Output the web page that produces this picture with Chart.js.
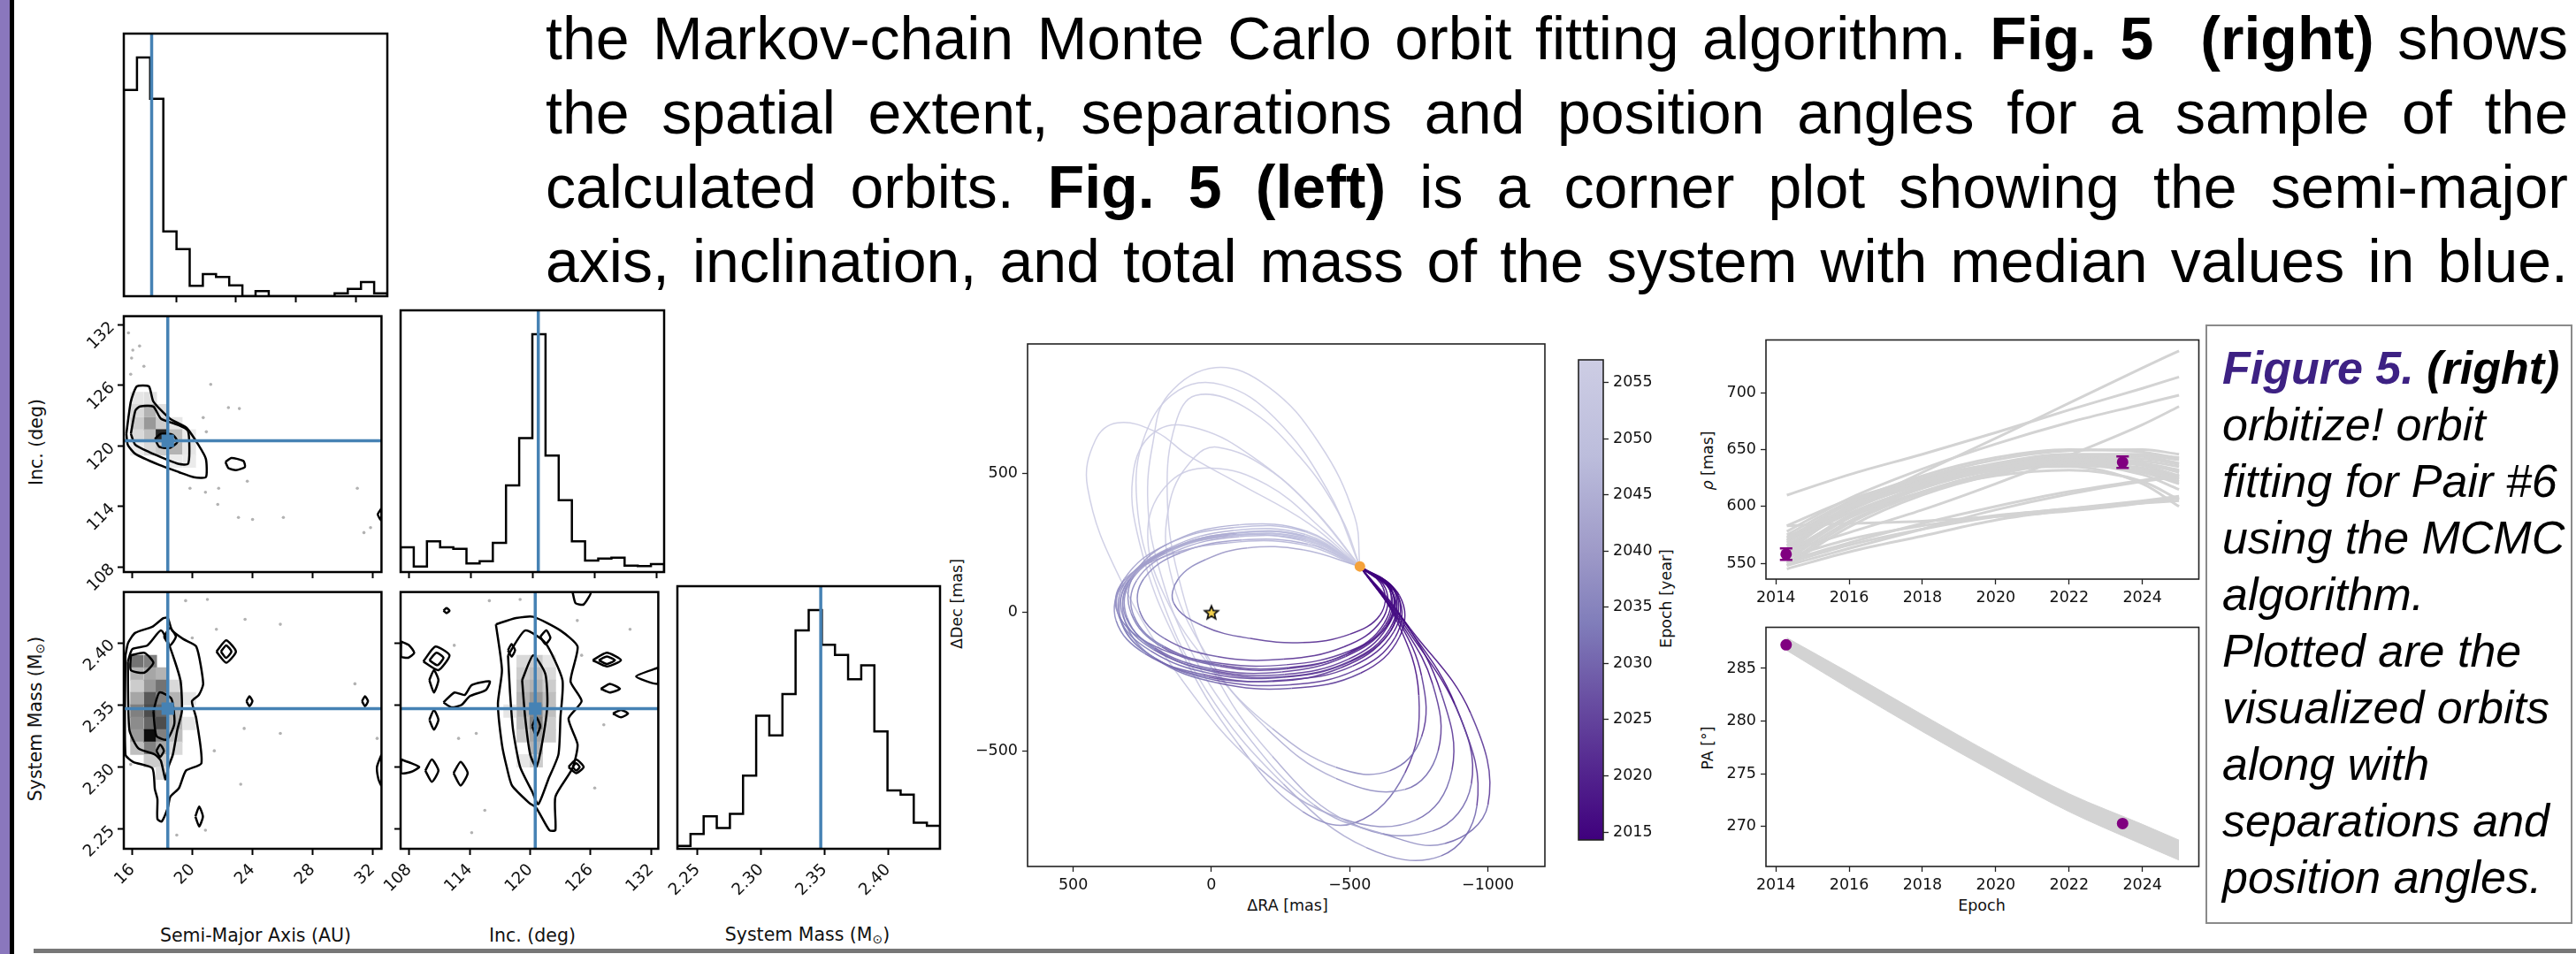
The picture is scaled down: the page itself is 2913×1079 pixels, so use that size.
<!DOCTYPE html>
<html>
<head>
<meta charset="utf-8">
<title>Fig. 5 orbit fit</title>
<script src="https://cdn.jsdelivr.net/npm/chart.js@4.4.1/dist/chart.umd.min.js"></script>
<style>
  html, body { margin: 0; padding: 0; background: #fff; }
  body { position: relative; width: 2913px; height: 1079px; overflow: hidden; font-family: "DejaVu Sans", sans-serif; color: #111; }
  canvas { position: absolute; }
  .strip { position: absolute; top: 0; height: 1079px; }
  #rule { position: absolute; left: 38px; top: 1073px; width: 2875px; height: 5px; background: #777; }
  #para { position: absolute; left: 617px; top: 1px; width: 2287px; font-family: "Liberation Sans", Arial, sans-serif; font-size: 68px; line-height: 84px; color: #000; }
  #para div { text-align: justify; text-align-last: justify; }
  #caption { position: absolute; left: 2494px; top: 367px; width: 415px; height: 678px; box-sizing: border-box; border: 2px solid #8a8a8a; padding: 15px 0 0 17px; font-family: "Liberation Sans", Arial, sans-serif; font-style: italic; font-size: 52px; line-height: 64px; color: #000; white-space: nowrap; }
  .lbl { position: absolute; white-space: nowrap; line-height: 1; transform: translate(-50%, -50%); color: #111; }
  .rot { transform: translate(-50%, -50%) rotate(-90deg); }
  .sun { font-size: 0.68em; vertical-align: -0.22em; }
</style>
</head>
<body>
<div class="strip" style="left:0;width:11px;background:#8a77bd"></div>
<div class="strip" style="left:11px;width:5px;background:#000"></div>
<div id="rule"></div>

<div id="para">
  <div>the Markov-chain Monte Carlo orbit fitting algorithm. <b>Fig. 5&nbsp; (right)</b> shows</div>
  <div>the spatial extent, separations and position angles for a sample of the</div>
  <div>calculated orbits. <b>Fig. 5 (left)</b> is a corner plot showing the semi-major</div>
  <div>axis, inclination, and total mass of the system with median values in blue.</div>
</div>

<div id="caption"><b style="color:#3d2183">Figure 5.</b> <b>(right)</b><br>orbitize! orbit<br>fitting for Pair #6<br>using the MCMC<br>algorithm.<br>Plotted are the<br>visualized orbits<br>along with<br>separations and<br>position angles.</div>

<div class="lbl rot" style="left:41px;top:500px;font-size:20.5px">Inc. (deg)</div>
<div class="lbl rot" style="left:41px;top:813px;font-size:20.5px">System Mass (M<span class="sun">⊙</span>)</div>
<div class="lbl" style="left:289px;top:1058px;font-size:20.5px">Semi-Major Axis (AU)</div>
<div class="lbl" style="left:602px;top:1058px;font-size:20.5px">Inc. (deg)</div>
<div class="lbl" style="left:913px;top:1058px;font-size:20.5px">System Mass (M<span class="sun">⊙</span>)</div>
<div class="lbl rot" style="left:1083px;top:683px;font-size:17.5px">ΔDec [mas]</div>
<div class="lbl" style="left:1456px;top:1025px;font-size:17.5px">ΔRA [mas]</div>
<div class="lbl rot" style="left:1885px;top:677px;font-size:17.5px">Epoch [year]</div>
<div class="lbl rot" style="left:1932px;top:521px;font-size:17.5px"><i>ρ</i> [mas]</div>
<div class="lbl rot" style="left:1932px;top:846px;font-size:17.5px">PA [°]</div>
<div class="lbl" style="left:2241px;top:1025px;font-size:17.5px">Epoch</div>

<script>
// ---------- corner plot ----------
const aRange = [15.43, 32.6];
const aHistRange = [16.5, 34.1];
const incRange = [107.15, 132.7];
const incYRange = [107.49, 132.86];
const massRange = [2.234, 2.441];
const aTicks = [16, 20, 24, 28, 32];
const aHistTicks = [20, 24, 28, 32];
const incTicks = [108, 114, 120, 126, 132];
const massTicks = [2.25, 2.30, 2.35, 2.40];
const aTruth = 18.36, incTruth = 120.5, massTruth = 2.347;

const aHistCounts = [70, 81, 67, 22, 16, 3.5, 7.5, 6.5, 3.7, 0, 1.7, 0, 0, 0, 0, 0, 1, 2.5, 4.8, 1];
const incHistCounts = [84, 19, 104, 84, 79, 29, 37, 99, 294, 454, 807, 395, 244, 104, 39, 46, 49, 22, 20, 27];
const massHistCounts = [10, 50, 110, 70, 118, 247, 450, 383, 523, 738, 807, 690, 655, 573, 620, 397, 197, 183, 88, 78];

const aIncCells = [
  [16.3,124.7,0.1],[17.2,124.7,0.12],
  [16.3,123.5,0.15],[17.2,123.5,0.3],[18.0,123.5,0.12],
  [16.3,122.2,0.2],[17.2,122.2,0.4],[18.0,122.2,0.2],[18.9,122.2,0.1],
  [16.3,121.0,0.15],[17.2,121.0,0.25],[18.0,121.0,0.85],[18.9,121.0,0.25],[19.8,121.0,0.08],
  [16.3,119.7,0.08],[17.2,119.7,0.15],[18.0,119.7,0.2],[18.9,119.7,0.3],[19.8,119.7,0.1],
  [18.9,118.5,0.08],[19.8,118.5,0.08]
];
const aIncContours = [
  [[15.6,121.2],[15.9,124.4],[16.3,125.9],[17.1,125.9],[17.4,124.4],[18.5,122.7],[19.6,121.8],[20.4,120.1],[20.9,118.7],[20.9,116.9],[20.1,116.9],[19.1,117.4],[17.8,118.1],[16.2,119.2],[15.7,120.1]],
  [[15.9,121.2],[16.2,123.5],[16.5,123.9],[17.4,123.9],[17.9,122.7],[19.0,122.1],[19.7,121.5],[19.8,119.5],[19.7,118.2],[19.1,118.2],[18.2,118.7],[17.1,119.4],[16.2,120.1]],
  [[17.5,120.7],[17.9,121.2],[18.7,121.1],[19.0,120.4],[18.5,119.8],[17.8,119.9]],
  [[22.2,118.4],[22.6,118.8],[23.4,118.5],[23.5,117.9],[22.9,117.6],[22.4,117.8]],
  [[32.6,113.8],[32.35,113.2],[32.6,112.6]]
];
const aIncDots = [[15.74,131.2],[16.03,129.5],[16.48,129.9],[15.95,128.7],[16.77,127.9],[15.89,127.1],[21.22,126.1],[22.4,123.8],[23.13,123.7],[20.72,122.8],[20.93,121.4],[23.66,116.5],[19.84,115.8],[20.87,115.4],[21.75,115.8],[21.69,114.2],[23.07,112.9],[24.01,112.7],[26.06,112.9],[30.99,115.8],[31.87,111.9],[31.43,111.4]];

const aMassCells = [
  [16.3,2.385,0.55],[16.3,2.375,0.3],[16.3,2.365,0.2],[16.3,2.355,0.35],[16.3,2.345,0.5],[16.3,2.335,0.45],[16.3,2.325,0.4],[16.3,2.315,0.25],
  [17.2,2.385,0.5],[17.2,2.375,0.35],[17.2,2.365,0.4],[17.2,2.355,0.65],[17.2,2.345,0.7],[17.2,2.335,0.6],[17.2,2.325,0.95],[17.2,2.315,0.5],[17.2,2.305,0.2],
  [18.0,2.375,0.3],[18.0,2.365,0.55],[18.0,2.355,0.5],[18.0,2.345,0.6],[18.0,2.335,0.7],[18.0,2.325,0.5],[18.0,2.315,0.35],[18.0,2.305,0.2],[18.0,2.295,0.15],
  [18.9,2.365,0.15],[18.9,2.355,0.3],[18.9,2.345,0.3],[18.9,2.335,0.3],[18.9,2.325,0.25],[18.9,2.315,0.15],
  [19.8,2.355,0.1],[19.8,2.335,0.1]
];
const aMassContours = [
  [[15.54,2.39],[15.72,2.40],[16.18,2.408],[17.33,2.413],[18.07,2.42],[18.36,2.42],[18.65,2.41],[19.4,2.403],[20.26,2.397],[20.72,2.367],[20.43,2.358],[19.97,2.353],[20.26,2.339],[20.6,2.303],[19.57,2.297],[19.11,2.283],[18.53,2.276],[18.36,2.267],[17.96,2.256],[17.67,2.258],[17.67,2.274],[17.5,2.282],[17.33,2.299],[16.06,2.304],[15.54,2.31]],
  [[15.7,2.385],[16.0,2.395],[17.0,2.398],[17.9,2.41],[18.4,2.40],[19.2,2.37],[19.3,2.345],[19.0,2.33],[18.7,2.31],[18.4,2.30],[18.2,2.29],[17.9,2.305],[17.5,2.31],[16.4,2.315],[15.8,2.33]],
  [[17.4,2.345],[17.8,2.36],[18.6,2.355],[18.8,2.335],[18.3,2.322],[17.6,2.325]],
  [[15.9,2.39],[16.8,2.392],[17.4,2.384],[16.8,2.376],[15.9,2.378]],
  [[18.1,2.405],[18.5,2.412],[18.9,2.405],[18.5,2.398]],
  [[21.6,2.393],[22.25,2.402],[22.9,2.393],[22.25,2.384]],
  [[21.9,2.393],[22.25,2.398],[22.6,2.393],[22.25,2.388]],
  [[23.6,2.353],[23.8,2.357],[24.0,2.353],[23.8,2.349]],
  [[31.3,2.353],[31.5,2.357],[31.7,2.353],[31.5,2.349]],
  [[20.2,2.26],[20.45,2.268],[20.7,2.26],[20.45,2.252]],
  [[17.6,2.313],[17.85,2.318],[18.1,2.313],[17.85,2.308]],
  [[32.6,2.31],[32.3,2.30],[32.4,2.29],[32.6,2.285]]
];
const aMassDots = [[15.89,2.302],[19.99,2.404],[23.45,2.331],[25.86,2.327],[23.22,2.286],[30.83,2.367],[32.31,2.323],[20.87,2.249],[18.96,2.245],[21.46,2.313],[21.6,2.411],[23.51,2.419],[25.86,2.415],[21.0,2.435],[19.55,2.434]];

const incMassCells = [
  [119.3,2.385,0.15],[120.6,2.385,0.2],[121.9,2.385,0.1],
  [119.3,2.375,0.2],[120.6,2.375,0.25],[121.9,2.375,0.15],
  [119.3,2.365,0.25],[120.6,2.365,0.3],[121.9,2.365,0.2],
  [119.3,2.355,0.3],[120.6,2.355,0.4],[121.9,2.355,0.25],
  [119.3,2.345,0.3],[120.6,2.345,0.45],[121.9,2.345,0.25],[118.0,2.345,0.1],
  [119.3,2.335,0.25],[120.6,2.335,0.5],[121.9,2.335,0.2],
  [119.3,2.325,0.2],[120.6,2.325,0.35],[121.9,2.325,0.2],
  [120.6,2.315,0.3],[120.6,2.305,0.2],[119.3,2.305,0.1]
];
const incMassContours = [
  [[116.6,2.415],[118.6,2.42],[120.3,2.421],[123.0,2.41],[124.7,2.397],[124.0,2.369],[125.1,2.353],[123.8,2.339],[124.7,2.318],[124.2,2.299],[122.5,2.276],[122.5,2.249],[121.9,2.249],[120.6,2.267],[119.9,2.271],[118.2,2.285],[117.7,2.299],[117.2,2.318],[116.8,2.351],[117.2,2.378]],
  [[117.8,2.39],[119.5,2.41],[121.5,2.40],[123.2,2.37],[123.0,2.34],[122.8,2.31],[121.8,2.29],[120.8,2.27],[120.2,2.28],[119.0,2.30],[118.3,2.33],[118.0,2.36]],
  [[119.2,2.37],[120.3,2.39],[121.5,2.375],[121.7,2.35],[121.2,2.32],[120.6,2.30],[120.0,2.31],[119.5,2.34]],
  [[120.2,2.333],[120.6,2.340],[121.0,2.333],[120.6,2.325]],
  [[121.0,2.405],[121.6,2.41],[122.0,2.404],[121.5,2.399]],
  [[117.8,2.394],[118.15,2.399],[118.5,2.394],[118.15,2.389]],
  [[107.2,2.401],[108.0,2.398],[108.5,2.392],[107.9,2.388],[107.2,2.389]],
  [[109.4,2.385],[110.6,2.397],[112.0,2.39],[110.9,2.378]],
  [[110.0,2.386],[110.7,2.392],[111.4,2.388],[110.8,2.382]],
  [[110.0,2.37],[110.45,2.378],[110.9,2.37],[110.45,2.36]],
  [[111.4,2.352],[112.5,2.36],[113.5,2.358],[114.2,2.366],[116.0,2.369],[115.6,2.362],[114.0,2.357],[113.2,2.35],[112.2,2.348]],
  [[110.0,2.338],[110.45,2.346],[110.9,2.338],[110.45,2.33]],
  [[107.2,2.306],[108.2,2.303],[109.0,2.30],[108.2,2.296],[107.2,2.295]],
  [[109.6,2.297],[110.25,2.306],[110.9,2.297],[110.25,2.288]],
  [[112.4,2.295],[113.1,2.304],[113.8,2.295],[113.1,2.285]],
  [[126.2,2.386],[127.6,2.392],[129.0,2.386],[127.6,2.381]],
  [[126.8,2.386],[127.6,2.389],[128.4,2.386],[127.6,2.383]],
  [[127.0,2.363],[127.9,2.367],[128.9,2.363],[127.9,2.36]],
  [[128.2,2.343],[129.0,2.346],[129.7,2.343],[129.0,2.34]],
  [[132.7,2.38],[130.5,2.373],[132.7,2.367]],
  [[123.8,2.30],[124.55,2.306],[125.3,2.30],[124.55,2.295]],
  [[124.2,2.30],[124.55,2.303],[124.9,2.30],[124.55,2.297]],
  [[124.2,2.441],[124.5,2.432],[125.3,2.431],[126.0,2.441]],
  [[111.4,2.426],[111.7,2.428],[112.0,2.426],[111.7,2.424]]
];
const incMassDots = [[112.47,2.398],[114.65,2.327],[115.5,2.265],[114.2,2.247],[125.1,2.39],[126.4,2.283],[112.9,2.323],[127.3,2.334],[115.95,2.434],[119.0,2.435],[124.67,2.418],[129.9,2.411]];

// ---------- orbit plot ----------
const raRange = [-1206, 665];
const decRange = [-918, 968];
const raTicks = [500, 0, -500, -1000];
const decTicks = [-500, 0, 500];
const nowPos = [-537, 165];
const starPos = [0, 0];
const cbarRange = [2014.3, 2057];
const cbarTicks = [2015, 2020, 2025, 2030, 2035, 2040, 2045, 2050, 2055];
const cmapStops = [[0, [63, 0, 125]], [0.15, [84, 39, 143]], [0.3, [106, 81, 163]], [0.45, [128, 125, 186]], [0.6, [158, 154, 200]], [0.8, [188, 189, 220]], [1, [205, 205, 228]]];
// each point: [dRA, dDec, epoch]
const orbitTracks = [
  [[-537,165,2014.3],[-653,79,2017],[-631,-52,2020],[-485,-160,2023.5],[-255,-216,2027],[-2,-205,2030.5],[205,-129,2034],[313,-9,2037.5],[291,122,2041],[145,230,2044.5],[-85,286,2048],[-338,275,2051.5],[-537,165,2055]],
  [[-537,165,2014.3],[-620,90,2016.5],[-610,-10,2019],[-500,-80,2022],[-330,-110,2025],[-140,-95,2028],[30,-50,2031],[135,30,2034],[120,120,2037],[20,190,2040],[-130,232,2043],[-330,225,2046],[-537,165,2049]],
  [[-537,165,2014.3],[-665,75,2017.2],[-650,-65,2020.4],[-500,-180,2024],[-260,-235,2027.6],[0,-222,2031.2],[220,-140,2034.8],[335,-15,2038.4],[315,120,2042],[160,245,2045.6],[-80,305,2049.2],[-340,290,2052.8],[-537,165,2056.5]],
  [[-537,165,2014.3],[-660,60,2017],[-640,-80,2020],[-470,-200,2023.5],[-220,-250,2027],[30,-225,2030.5],[240,-150,2034],[345,-30,2037.5],[320,100,2041],[170,215,2044.5],[-60,275,2048],[-320,260,2051.5],[-537,165,2055]],
  [[-537,165,2014.3],[-640,95,2016.8],[-625,-40,2019.8],[-490,-150,2023.2],[-270,-205,2026.7],[-30,-195,2030.2],[180,-125,2033.7],[290,-5,2037.2],[280,135,2040.7],[140,255,2044.2],[-100,315,2047.7],[-350,290,2051.2],[-537,165,2054.7]],
  [[-537,165,2014.3],[-655,70,2016.9],[-640,-45,2019.8],[-500,-140,2023.2],[-270,-190,2026.6],[0,-180,2030],[230,-110,2033.4],[340,0,2036.8],[320,110,2040.2],[170,200,2043.6],[-60,250,2047],[-320,245,2050.4],[-537,165,2053.8]],
  [[-537,165,2014.3],[-650,85,2017],[-635,-55,2020],[-495,-170,2023.5],[-265,-225,2027],[-10,-212,2030.5],[210,-135,2034],[320,-15,2037.5],[300,115,2041],[150,225,2044.5],[-90,280,2048],[-345,265,2051.5],[-537,165,2055]],
  [[-537,165,2014.3],[-680,60,2017.3],[-680,-90,2020.6],[-540,-220,2024.3],[-290,-275,2028],[-20,-255,2031.7],[200,-170,2035.4],[310,-40,2039.1],[300,100,2042.8],[160,215,2046.5],[-70,275,2050.2],[-330,265,2053.9],[-537,165,2057.6]],
  [[-537,165,2014.3],[-630,85,2016.6],[-615,-30,2019.3],[-480,-125,2022.4],[-260,-170,2025.5],[-20,-160,2028.6],[170,-95,2031.7],[260,5,2034.8],[245,120,2037.9],[110,215,2041],[-110,260,2044.1],[-350,245,2047.2],[-537,165,2050.3]],
  [[-537,165,2014.3],[-670,70,2017.1],[-660,-70,2020.3],[-510,-195,2023.9],[-270,-245,2027.5],[10,-235,2031.1],[230,-150,2034.7],[330,-25,2038.3],[310,110,2041.9],[155,230,2045.5],[-80,295,2049.1],[-340,280,2052.7],[-537,165,2056.3]],
  [[-537,165,2014.3],[-660,80,2017],[-645,-60,2020],[-505,-175,2023.5],[-275,-232,2027],[-20,-218,2030.5],[195,-140,2034],[305,-20,2037.5],[290,115,2041],[140,228,2044.5],[-95,285,2048],[-345,272,2051.5],[-537,165,2055]],
  [[-537,165,2014.3],[-645,80,2016.9],[-630,-45,2019.8],[-495,-150,2023.2],[-280,-200,2026.6],[-40,-192,2030],[170,-125,2033.4],[280,-15,2036.8],[270,115,2040.2],[130,220,2043.6],[-100,272,2047],[-345,258,2050.4],[-537,165,2053.8]],
  [[-537,165,2014.3],[-675,55,2017.2],[-665,-90,2020.4],[-520,-210,2024],[-285,-262,2027.6],[-10,-245,2031.2],[215,-160,2034.8],[325,-35,2038.4],[305,105,2042],[160,222,2045.6],[-75,285,2049.2],[-335,272,2052.8],[-537,165,2056.5]],
  [[-537,165,2014.3],[-717,-57,2018],[-937,-364,2024],[-1000,-696,2031],[-845,-835,2038],[-620,-800,2044],[-371,-696,2050],[-98,-406,2058],[86,-117,2066],[194,174,2074],[230,392,2080],[212,609,2086],[157,783,2092],[-16,883,2098],[-206,813,2104],[-390,609,2110],[-517,348,2116],[-537,165,2120]],
  [[-537,165,2014.3],[-700,-40,2018],[-880,-330,2024],[-940,-620,2031],[-800,-790,2038],[-500,-760,2045],[-220,-520,2053],[0,-200,2061],[120,130,2069],[160,430,2076],[130,680,2083],[57,782,2088],[-120,740,2094],[-320,560,2101],[-470,340,2108],[-537,165,2112]],
  [[-537,165,2014.3],[-690,-20,2018],[-830,-290,2024],[-870,-570,2031],[-740,-750,2038],[-470,-745,2045],[-170,-560,2053],[110,-240,2061],[330,120,2069],[448,450,2077],[420,620,2083],[340,683,2088],[200,650,2093],[86,567,2097],[-98,465,2102],[-352,320,2108],[-537,165,2112]],
  [[-537,165,2014.3],[-680,-30,2018],[-800,-260,2024],[-820,-500,2031],[-700,-640,2038],[-450,-600,2045],[-200,-420,2053],[20,-150,2061],[150,150,2069],[150,400,2077],[60,560,2084],[-25,595,2088],[-200,520,2094],[-380,360,2101],[-537,165,2106]],
  [[-537,165,2014.3],[-670,-20,2018],[-760,-230,2024],[-760,-450,2031],[-644,-573,2038],[-450,-560,2045],[-220,-420,2052],[0,-200,2059],[170,60,2066],[230,300,2073],[150,470,2080],[0,520,2086],[-200,460,2092],[-400,300,2099],[-537,165,2104]],
  [[-537,165,2014.3],[-670,-30,2018],[-750,-300,2024],[-700,-580,2031],[-520,-760,2038],[-330,-720,2045],[-100,-480,2053],[120,-120,2061],[260,250,2069],[280,520,2077],[190,660,2084],[40,660,2090],[-150,560,2096],[-350,390,2103],[-537,165,2108]],
  [[-537,165,2014.3],[-700,-50,2018],[-900,-380,2024],[-960,-700,2031],[-830,-880,2038],[-560,-850,2045],[-260,-620,2053],[20,-280,2061],[200,100,2069],[270,400,2077],[240,640,2084],[120,800,2090],[-40,820,2095],[-230,700,2101],[-420,440,2108],[-537,165,2113]]
];

// ---------- separation / PA ----------
const epochRange = [2013.73, 2025.54];
const epochTicks = [2014, 2016, 2018, 2020, 2022, 2024];
const rhoRange = [536, 746.6];
const rhoTicks = [550, 600, 650, 700];
const paRange = [266.2, 288.9];
const paTicks = [270, 275, 280, 285];
const trackYears = [2014.3, 2016, 2018, 2020, 2022, 2024, 2025];
const rhoTracks = [
  [610, 628, 646, 665, 685, 704, 714],
  [578, 607, 633, 655, 674, 690, 698],
  [573, 599, 630, 660, 691, 722, 737],
  [560, 577, 597, 620, 645, 672, 688],
  [545, 560, 574, 588, 597, 604, 607],
  [550, 566, 580, 591, 598, 603, 605],
  [555, 571, 583, 592, 598, 605, 609],
  [583, 585, 587, 591, 596, 603, 608],
  [548, 563, 580, 597, 611, 622, 626],
  [552, 568, 585, 600, 613, 623, 628],
  [560, 598, 622, 638, 646, 646, 643],
  [565, 600, 625, 641, 649, 650, 646],
  [570, 603, 627, 643, 650, 648, 642],
  [555, 590, 616, 633, 641, 640, 635],
  [558, 592, 618, 635, 642, 638, 630],
  [550, 585, 612, 630, 639, 637, 631],
  [562, 596, 620, 636, 643, 642, 637],
  [568, 600, 622, 636, 641, 636, 627],
  [553, 587, 613, 630, 636, 631, 622],
  [572, 602, 623, 635, 638, 630, 620],
  [575, 604, 625, 637, 640, 633, 624],
  [556, 591, 617, 634, 644, 645, 641],
  [548, 582, 610, 628, 637, 634, 626],
  [566, 594, 617, 632, 637, 628, 615],
  [560, 590, 613, 627, 632, 622, 606],
  [583, 606, 624, 634, 635, 620, 600],
  [563, 597, 621, 637, 645, 644, 638],
  [570, 598, 619, 633, 640, 638, 632]
];
const paUpper = [287.9, 284.6, 280.6, 276.7, 273.1, 270.2, 268.7];
const paLower = [286.7, 283.1, 279.0, 275.1, 271.4, 268.3, 266.8];
const obsYears = [2014.28, 2023.46];
const rhoObs = [558, 639];
const rhoErr = [5, 5];
const paObs = [287.24, 270.28];

// ---------- helpers ----------
Chart.defaults.font.family = "'DejaVu Sans', sans-serif";
Chart.defaults.color = '#111';

const BLUE = '#4682b4';
const PURPLE = '#800080';
const LIGHT = '#d3d3d3';

Chart.register({
  id: 'frame',
  afterDatasetsDraw(chart, args, opts) {
    if (!opts || !opts.width) return;
    const {ctx, chartArea: a} = chart;
    ctx.save();
    ctx.strokeStyle = opts.color;
    ctx.lineWidth = opts.width;
    ctx.strokeRect(a.left, a.top, a.right - a.left, a.bottom - a.top);
    ctx.restore();
  }
});

function cmap(yr) {
  const t = Math.min(1, Math.max(0, (yr - cbarRange[0]) / (cbarRange[1] - cbarRange[0])));
  for (let i = 1; i < cmapStops.length; i++) {
    const [t1, c1] = cmapStops[i], [t0, c0] = cmapStops[i - 1];
    if (t <= t1) {
      const f = (t - t0) / (t1 - t0);
      const c = c0.map((v, k) => Math.round(v + (c1[k] - v) * f));
      return `rgba(${c[0]},${c[1]},${c[2]},0.92)`;
    }
  }
  return 'rgb(205,205,228)';
}

function hiddenAxis(min, max) {
  return {type: 'linear', min, max, display: true, grid: {display: false}, border: {display: false}, ticks: {display: false}};
}

function numAxis([min, max], tickVals, o = {}) {
  return {
    type: 'linear', min, max, reverse: !!o.reverse, position: o.position,
    afterBuildTicks: s => { s.ticks = tickVals.map(v => ({value: v})); },
    grid: {display: true, drawOnChartArea: false, drawTicks: true, tickLength: o.tickLen || 7, tickWidth: o.tickW || 2, tickColor: o.tickColor || '#000'},
    border: {display: false},
    ticks: {
      display: !!o.labels, autoSkip: false, padding: o.pad == null ? 4 : o.pad,
      minRotation: o.rot || 0, maxRotation: o.rot || 0,
      font: {size: o.size || 17.5}, color: '#111',
      callback: o.fmt || (v => String(v))
    }
  };
}

function makeChart(box, m, type, data, scales, frame) {
  const cv = document.createElement('canvas');
  const W = m.l + box.w + m.r, H = m.t + box.h + m.b;
  cv.width = W; cv.height = H;
  Object.assign(cv.style, {left: (box.x - m.l) + 'px', top: (box.y - m.t) + 'px', width: W + 'px', height: H + 'px'});
  document.body.appendChild(cv);
  const yRight = scales.y.position === 'right';
  scales.x.afterFit = s => { s.height = m.b; s.paddingLeft = 0; s.paddingRight = 0; };
  scales.y.afterFit = s => { s.width = yRight ? m.r : m.l; s.paddingTop = 0; s.paddingBottom = 0; };
  return new Chart(cv, {
    type, data,
    options: {
      responsive: false, animation: false,
      layout: {padding: {left: yRight ? m.l : 0, right: yRight ? 0 : m.r, top: m.t, bottom: 0}},
      scales,
      plugins: {legend: {display: false}, tooltip: {enabled: false}, frame}
    }
  });
}

const pt = ([x, y]) => ({x, y});
const closed = poly => poly.concat([poly[0]]).map(pt);

function lineDs(data, color, width, extra) {
  return Object.assign({data, showLine: true, borderColor: color, borderWidth: width, pointRadius: 0, pointHoverRadius: 0, fill: false}, extra || {});
}

function histSeries([lo, hi], counts) {
  const n = counts.length, w = (hi - lo) / n;
  const d = [{x: lo, y: 0}];
  counts.forEach((c, i) => d.push({x: lo + i * w, y: c}));
  d.push({x: hi, y: counts[n - 1]}, {x: hi, y: 0});
  return d;
}

function histPanel(box, m, range, counts, ticks, truth, xLabels) {
  const top = Math.max(...counts) * 1.1;
  return makeChart(box, m, 'scatter', {datasets: [
    lineDs([{x: truth, y: 0}, {x: truth, y: top}], BLUE, 3.5, {order: 1}),
    lineDs(histSeries(range, counts), '#000', 2.5, {stepped: true, order: 2})
  ]}, {
    x: numAxis(range, ticks, xLabels || {}),
    y: hiddenAxis(0, top)
  }, {width: 2.5, color: '#000'});
}

function cellDs(cells) {
  return {
    data: cells.map(([x, y, s]) => ({x, y, s})),
    pointStyle: 'rect', pointRadius: 10.6, pointHoverRadius: 10.6, pointBorderWidth: 0,
    pointBackgroundColor: c => {
      if (!c.raw) return '#ccc';
      const g = Math.round(255 * (1 - c.raw.s));
      return `rgb(${g},${g},${g})`;
    },
    order: 6
  };
}

function densityPanel(box, m, xr, yr, cells, dots, contours, tx, ty, xAxis, yAxis) {
  const ds = [
    {data: [{x: tx, y: ty}], pointStyle: 'rect', pointRadius: 10, pointHoverRadius: 10, pointBackgroundColor: BLUE, pointBorderWidth: 0, order: 1},
    lineDs([{x: tx, y: yr[0]}, {x: tx, y: yr[1]}], BLUE, 3.5, {order: 2}),
    lineDs([{x: xr[0], y: ty}, {x: xr[1], y: ty}], BLUE, 3.5, {order: 2}),
    ...contours.map(c => lineDs(closed(c), '#000', 2.5, {tension: 0.2, order: 3})),
    {data: dots.map(pt), pointRadius: 1.8, pointHoverRadius: 1.8, pointBackgroundColor: 'rgba(0,0,0,0.3)', pointBorderWidth: 0, order: 5},
    cellDs(cells)
  ];
  return makeChart(box, m, 'scatter', {datasets: ds}, {x: xAxis, y: yAxis}, {width: 2.5, color: '#000'});
}

const cornerLab = {labels: true, rot: 45, size: 18.5, pad: 6};
const massFmt = v => v.toFixed(2);

// ---------- corner panels ----------
histPanel({x: 140, y: 38, w: 298, h: 297}, {l: 4, t: 4, r: 4, b: 14}, aHistRange, aHistCounts, aHistTicks, aTruth);
densityPanel({x: 140, y: 351, w: 298, h: 296}, {l: 125, t: 4, r: 4, b: 45}, aRange, incYRange,
  aIncCells, aIncDots, aIncContours, aTruth, incTruth,
  numAxis(aRange, aTicks), numAxis(incYRange, incTicks, cornerLab));
histPanel({x: 453, y: 351, w: 298, h: 296}, {l: 4, t: 4, r: 4, b: 14}, incRange, incHistCounts, incTicks, incTruth);
densityPanel({x: 140, y: 663, w: 298, h: 297}, {l: 125, t: 4, r: 4, b: 80}, aRange, massRange,
  aMassCells, aMassDots, aMassContours, aTruth, massTruth,
  numAxis(aRange, aTicks, cornerLab), numAxis(massRange, massTicks, Object.assign({fmt: massFmt}, cornerLab)));
densityPanel({x: 453, y: 663, w: 298, h: 297}, {l: 45, t: 4, r: 4, b: 80}, incRange, massRange,
  incMassCells, incMassDots, incMassContours, incTruth, massTruth,
  numAxis(incRange, incTicks, cornerLab), numAxis(massRange, massTicks));
histPanel({x: 766, y: 663, w: 297, h: 297}, {l: 45, t: 4, r: 4, b: 80}, massRange, massHistCounts, massTicks, massTruth,
  Object.assign({fmt: massFmt}, cornerLab));

// ---------- orbit plot ----------
function starImage(size) {
  const c = document.createElement('canvas');
  c.width = c.height = size;
  const g = c.getContext('2d');
  const r = size / 2 - 2, cx = size / 2, cy = size / 2 + 1;
  g.beginPath();
  for (let k = 0; k < 10; k++) {
    const ang = -Math.PI / 2 + k * Math.PI / 5, rr = k % 2 ? r * 0.45 : r;
    g.lineTo(cx + rr * Math.cos(ang), cy + rr * Math.sin(ang));
  }
  g.closePath();
  g.fillStyle = '#f2d04c'; g.fill();
  g.lineWidth = 1.8; g.strokeStyle = '#111'; g.stroke();
  return c;
}

const orbitAxisOpts = {labels: true, size: 17.5, tickLen: 6, tickW: 1.3, tickColor: '#222', pad: 5};
const minusFmt = v => v < 0 ? '\u2212' + Math.abs(v) : String(v);

makeChart({x: 1162, y: 384, w: 590, h: 596}, {l: 100, t: 6, r: 6, b: 40}, 'scatter', {datasets: [
  {data: [pt(starPos)], pointStyle: starImage(20), pointRadius: 10, order: 0},
  {data: [pt(nowPos)], pointRadius: 6, pointHoverRadius: 6, pointBackgroundColor: '#f5a23a', pointBorderWidth: 0, order: 0},
  ...orbitTracks.map(track => lineDs(track.map(([x, y]) => ({x, y})), cmap(2030), 1.5, {
    tension: 0.4, order: 2,
    segment: {borderColor: s => cmap(track[s.p0DataIndex][2])}
  }))
]}, {
  x: numAxis(raRange, raTicks, Object.assign({reverse: true, fmt: minusFmt}, orbitAxisOpts)),
  y: numAxis(decRange, decTicks, Object.assign({fmt: minusFmt}, orbitAxisOpts))
}, {width: 1.6, color: '#222'});

// colour bar
makeChart({x: 1785, y: 407, w: 28, h: 543}, {l: 4, t: 6, r: 60, b: 6}, 'bar', {
  labels: [''],
  datasets: [{
    data: [cbarRange],
    barPercentage: 1, categoryPercentage: 1, borderWidth: 0,
    backgroundColor: c => {
      const ys = c.chart.scales.y;
      if (!ys || !c.chart.chartArea) return cmap(2035);
      const g = c.chart.ctx.createLinearGradient(0, ys.getPixelForValue(cbarRange[0]), 0, ys.getPixelForValue(cbarRange[1]));
      cmapStops.forEach(([t, rgb]) => g.addColorStop(t, `rgb(${rgb.join(',')})`));
      return g;
    }
  }]
}, {
  x: {type: 'category', display: true, grid: {display: false}, border: {display: false}, ticks: {display: false}},
  y: numAxis(cbarRange, cbarTicks, Object.assign({position: 'right'}, orbitAxisOpts))
}, {width: 1.6, color: '#222'});

// ---------- separation ----------
makeChart({x: 1997, y: 384, w: 490, h: 271}, {l: 70, t: 6, r: 6, b: 40}, 'scatter', {datasets: [
  {data: obsYears.map((x, i) => ({x, y: rhoObs[i]})), pointRadius: 6.5, pointHoverRadius: 6.5, pointBackgroundColor: PURPLE, pointBorderWidth: 0, order: 0},
  lineDs(obsYears.flatMap((x, i) => [{x, y: rhoObs[i] - rhoErr[i]}, {x, y: rhoObs[i] + rhoErr[i]}, {x, y: null}]), PURPLE, 3, {order: 1, spanGaps: false}),
  lineDs(obsYears.flatMap((x, i) => [
    {x: x - 0.17, y: rhoObs[i] - rhoErr[i]}, {x: x + 0.17, y: rhoObs[i] - rhoErr[i]}, {x, y: null},
    {x: x - 0.17, y: rhoObs[i] + rhoErr[i]}, {x: x + 0.17, y: rhoObs[i] + rhoErr[i]}, {x, y: null}
  ]), PURPLE, 2.5, {order: 1, spanGaps: false}),
  ...rhoTracks.map(vals => lineDs(trackYears.map((x, i) => ({x, y: vals[i]})), LIGHT, 3, {cubicInterpolationMode: 'monotone', order: 3}))
]}, {
  x: numAxis(epochRange, epochTicks, orbitAxisOpts),
  y: numAxis(rhoRange, rhoTicks, orbitAxisOpts)
}, {width: 1.6, color: '#222'});

// ---------- position angle ----------
makeChart({x: 1997, y: 709, w: 490, h: 271}, {l: 70, t: 6, r: 6, b: 40}, 'scatter', {datasets: [
  lineDs(trackYears.map((x, i) => ({x, y: paUpper[i]})), LIGHT, 1, {fill: '+1', backgroundColor: LIGHT, cubicInterpolationMode: 'monotone', order: 3}),
  lineDs(trackYears.map((x, i) => ({x, y: paLower[i]})), LIGHT, 1, {cubicInterpolationMode: 'monotone', order: 4}),
  {data: obsYears.map((x, i) => ({x, y: paObs[i]})), pointRadius: 6.5, pointHoverRadius: 6.5, pointBackgroundColor: PURPLE, pointBorderWidth: 0, order: 0}
]}, {
  x: numAxis(epochRange, epochTicks, orbitAxisOpts),
  y: numAxis(paRange, paTicks, orbitAxisOpts)
}, {width: 1.6, color: '#222'});
</script>
</body>
</html>
